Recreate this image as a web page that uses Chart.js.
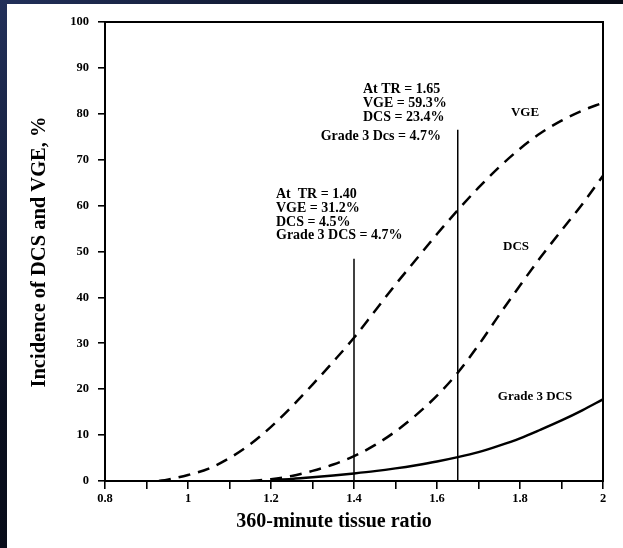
<!DOCTYPE html>
<html>
<head>
<meta charset="utf-8">
<script src="https://cdn.jsdelivr.net/npm/chart.js@4.4.1/dist/chart.umd.min.js"></script>
<style>
  html, body { margin: 0; padding: 0; }
  body {
    width: 623px; height: 548px; overflow: hidden; position: relative;
    background: linear-gradient(135deg, #22305a 0%, #0a0f1f 35%, #000 100%);
  }
  .sheet { position: absolute; left: 7px; top: 4px; right: 0; bottom: 0; background: #fff; }
  .wrap { position: absolute; left: 0; top: 0; width: 623px; height: 548px; }
</style>
</head>
<body>
<div class="sheet"></div>
<div class="wrap"><canvas id="chart" width="623" height="548"></canvas></div>
<script>
// tissue ratio sample points and curves
const tissueRatio = [0.93, 0.95, 1.0, 1.05, 1.1, 1.15, 1.2, 1.25, 1.3, 1.35, 1.4, 1.45, 1.5, 1.55, 1.6, 1.65, 1.7, 1.75, 1.8, 1.85, 1.9, 1.95, 2.0];
const vge     = [0, 0.3, 1.3, 2.7, 5.0, 8.0, 11.8, 16.2, 21.0, 26.0, 31.2, 37.0, 42.8, 48.3, 53.8, 59.0, 63.9, 68.4, 72.4, 75.8, 78.5, 80.7, 82.4];
const dcs     = [null, null, null, null, null, 0, 0.4, 1.1, 2.2, 3.6, 5.4, 7.8, 10.8, 14.4, 18.6, 23.6, 29.6, 36.2, 42.6, 48.8, 54.6, 60.3, 66.5];
const grade3  = [null, null, null, null, null, null, 0.2, 0.45, 0.8, 1.2, 1.65, 2.15, 2.75, 3.45, 4.25, 5.2, 6.3, 7.7, 9.3, 11.2, 13.2, 15.4, 17.8];

const markerX   = [1.4, 1.65];
const markerTop = [48.4, 76.5];

const xMin = 0.8, xMax = 2.0, xStep = 0.1;
const yMin = 0, yMax = 100, yStep = 10;

const pts = (ys) => tissueRatio.map((x, i) => ({ x, y: ys[i] })).filter(p => p.y !== null);

const ink = '#000';
const serif = '"Liberation Serif", "Times New Roman", serif';

const curve = (label, ys, dashed) => ({
  label,
  data: pts(ys),
  borderColor: ink,
  borderWidth: 2.5,
  borderDash: dashed ? [12, 8] : [],
  pointRadius: 0,
  fill: false,
  cubicInterpolationMode: 'monotone',
});

const markers = markerX.map((x, i) => ({
  label: 'TR ' + x,
  data: [{ x, y: 0 }, { x, y: markerTop[i] }],
  borderColor: ink,
  borderWidth: 1.5,
  pointRadius: 0,
  fill: false,
}));

// ── text overlay + frame ─────────────────────────────────
const overlay = {
  id: 'overlay',
  afterDraw(chart) {
    const { ctx, chartArea: a } = chart;
    ctx.save();
    ctx.strokeStyle = ink;
    ctx.lineWidth = 2;
    ctx.strokeRect(a.left, a.top, a.right - a.left, a.bottom - a.top);

    ctx.fillStyle = ink;
    ctx.textBaseline = 'middle';
    const t = (s, x, y, size, align) => {
      ctx.font = `bold ${size}px ${serif}`;
      ctx.textAlign = align || 'left';
      ctx.fillText(s, x, y);
    };
    t('At TR = 1.65', 363, 89, 14);
    t('VGE = 59.3%', 363, 103, 14);
    t('DCS = 23.4%', 363, 117, 14);
    t('Grade 3 Dcs = 4.7%', 441, 136, 14, 'right');

    t('At  TR = 1.40', 276, 194, 14);
    t('VGE = 31.2%', 276, 208, 14);
    t('DCS = 4.5%', 276, 222, 14);
    t('Grade 3 DCS = 4.7%', 276, 235, 14);

    t('VGE', 525, 113, 13, 'center');
    t('DCS', 516, 247, 13, 'center');
    t('Grade 3 DCS', 535, 397, 13, 'center');

    t('360-minute tissue ratio', 334, 522, 20, 'center');

    ctx.translate(40, 252);
    ctx.rotate(-Math.PI / 2);
    t('Incidence of DCS and VGE, %', 0, 0, 20.5, 'center');
    ctx.restore();
  },
};

new Chart(document.getElementById('chart'), {
  type: 'line',
  data: {
    datasets: [
      curve('VGE', vge, true),
      curve('DCS', dcs, true),
      curve('Grade 3 DCS', grade3, false),
      ...markers,
    ],
  },
  options: {
    responsive: false,
    animation: false,
    layout: { padding: { left: 0, top: 22, right: 20, bottom: 0 } },
    plugins: { legend: { display: false }, tooltip: { enabled: false } },
    scales: {
      x: {
        type: 'linear',
        min: xMin, max: xMax,
        afterFit: (s) => { s.height = 67; },
        grid: { drawOnChartArea: false, drawTicks: true, tickLength: 8, color: ink, lineWidth: 1.6 },
        border: { display: true, color: ink, width: 2 },
        ticks: {
          stepSize: xStep,
          autoSkip: false,
          maxRotation: 0,
          padding: 2,
          color: ink,
          font: { family: serif, size: 12.5, weight: 'bold' },
          callback: (v) => {
            const k = Math.round(v * 10);
            return k % 2 === 0 ? String(k / 10) : '';
          },
        },
      },
      y: {
        min: yMin, max: yMax,
        afterFit: (s) => { s.width = 105; },
        grid: { drawOnChartArea: false, drawTicks: true, tickLength: 7, color: ink, lineWidth: 1.6 },
        border: { display: true, color: ink, width: 2 },
        ticks: {
          stepSize: yStep,
          padding: 9,
          color: ink,
          font: { family: serif, size: 12.5, weight: 'bold' },
        },
      },
    },
  },
  plugins: [overlay],
});
</script>
</body>
</html>
